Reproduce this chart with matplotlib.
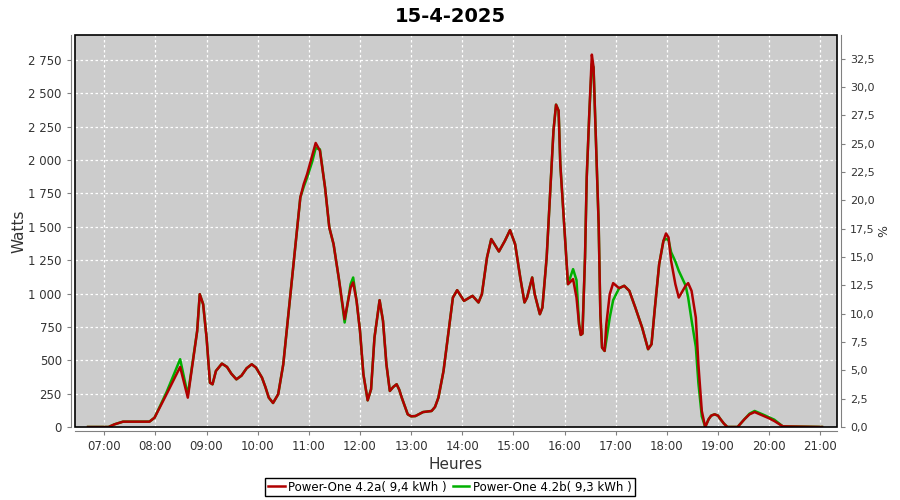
import matplotlib
matplotlib.use('Agg')
import matplotlib.pyplot as plt
import matplotlib.ticker as mticker
from matplotlib.patches import Rectangle
import numpy as np

# readings taken off the chart (time of day, watts)
times_a = ['06:41', '07:05', '07:12', '07:22', '07:53', '07:59', '08:13', '08:29', '08:38', '08:49',
           '08:52', '08:56', '09:00', '09:04', '09:07', '09:11', '09:18', '09:24', '09:29', '09:35',
           '09:41', '09:47', '09:53', '09:58', '10:05', '10:09', '10:13', '10:18', '10:24', '10:30',
           '10:36', '10:42', '10:50', '10:54', '10:58', '11:04', '11:08', '11:13', '11:19', '11:24',
           '11:29', '11:35', '11:42', '11:49', '11:52', '11:56', '12:00', '12:04', '12:09', '12:13',
           '12:17', '12:23', '12:27', '12:31', '12:35', '12:39', '12:43', '12:46', '12:49', '12:56',
           '13:00', '13:05', '13:14', '13:24', '13:28', '13:32', '13:38', '13:44', '13:49', '13:54',
           '14:02', '14:12', '14:19', '14:23', '14:29', '14:34', '14:43', '14:50', '14:56', '15:02',
           '15:08', '15:13', '15:16', '15:22', '15:25', '15:31', '15:34', '15:39', '15:43', '15:47',
           '15:50', '15:53', '15:55', '16:01', '16:04', '16:10', '16:14', '16:17', '16:19', '16:21',
           '16:24', '16:26', '16:29', '16:32', '16:34', '16:37', '16:40', '16:42', '16:44', '16:47',
           '16:49', '16:53', '16:57', '17:04', '17:10', '17:16', '17:23', '17:31', '17:38', '17:42',
           '17:46', '17:51', '17:56', '17:59', '18:02', '18:05', '18:10', '18:14', '18:22', '18:25',
           '18:29', '18:34', '18:37', '18:41', '18:45', '18:49', '18:52', '18:56', '19:00', '19:03',
           '19:07', '19:11', '19:23', '19:31', '19:37', '19:43', '19:54', '20:00', '20:06', '20:16',
           '21:02']

watts_a = [0, 0, 20, 40, 40, 70, 245, 450, 220, 720,
           995, 920, 670, 332, 320, 420, 475, 450, 400, 357,
           385, 440, 470, 445, 370, 300, 220, 180, 245, 470,
           845, 1220, 1720, 1820, 1895, 2033, 2128, 2070, 1795, 1495,
           1370, 1120, 808, 1045, 1083, 945, 720, 395, 200, 283,
           670, 950, 795, 470, 270, 300, 320, 280, 220, 95,
           80, 82, 112, 120, 150, 220, 420, 720, 970, 1025,
           945, 983, 933, 995, 1270, 1408, 1315, 1395, 1475, 1370,
           1120, 933, 970, 1120, 995, 845, 895, 1270, 1745, 2220,
           2415, 2370, 1970, 1370, 1070, 1108, 970, 770, 690, 700,
           1270, 1870, 2345, 2790, 2695, 2095, 1520, 845, 595, 570,
           770, 995, 1078, 1040, 1058, 1020, 895, 745, 583, 620,
           895, 1220, 1395, 1450, 1420, 1245, 1070, 970, 1058, 1078,
           1020, 820, 470, 120, 0, 58, 85, 95, 85, 58,
           25, 0, 0, 58, 95, 112, 82, 65, 45, 5,
           0]

watts_b = [0, 0, 20, 40, 40, 70, 260, 508, 240, 720,
           995, 920, 670, 332, 320, 420, 475, 450, 400, 357,
           385, 440, 470, 445, 370, 300, 220, 180, 245, 470,
           845, 1220, 1720, 1800, 1870, 1990, 2090, 2080, 1795, 1495,
           1370, 1120, 783, 1070, 1120, 945, 720, 395, 200, 283,
           670, 950, 795, 470, 270, 300, 320, 280, 220, 95,
           80, 82, 112, 120, 150, 220, 420, 720, 970, 1025,
           945, 983, 933, 995, 1270, 1408, 1315, 1395, 1475, 1370,
           1120, 933, 970, 1120, 995, 845, 895, 1270, 1745, 2220,
           2415, 2370, 1970, 1370, 1070, 1183, 1100, 770, 690, 700,
           1270, 1870, 2345, 2720, 2695, 2095, 1520, 845, 595, 570,
           650, 820, 950, 1040, 1058, 1020, 895, 745, 583, 620,
           895, 1220, 1395, 1410, 1400, 1310, 1240, 1170, 1060, 970,
           800, 600, 330, 80, 0, 58, 85, 95, 85, 58,
           25, 0, 0, 58, 100, 120, 90, 72, 55, 5,
           0]

label_a = 'Power-One 4.2a( 9,4 kWh )'
label_b = 'Power-One 4.2b( 9,3 kWh )'
hour_ticks = ['07:00', '08:00', '09:00', '10:00', '11:00', '12:00', '13:00', '14:00',
              '15:00', '16:00', '17:00', '18:00', '19:00', '20:00', '21:00']


def to_hours(t):
    h, m = t.split(':')
    return int(h) + int(m) / 60.0


x = np.array([to_hours(t) for t in times_a])

fig = plt.figure(figsize=(9, 5), dpi=100)
ax = fig.add_axes([0.0833, 0.146, 0.8467, 0.784])
ax.set_facecolor('#cccccc')

ax.plot(x, watts_b, color='#00b000', lw=1.8, zorder=2, label=label_b)
ax.plot(x, watts_a, color='#b00000', lw=1.8, zorder=3, label=label_a)

ax.set_xlim(6.427, 21.327)
ax.set_ylim(0, 2937)

ax.set_xticks([to_hours(t) for t in hour_ticks])
ax.set_xticklabels(hour_ticks)
ax.yaxis.set_major_locator(mticker.MultipleLocator(250))
ax.yaxis.set_major_formatter(mticker.FuncFormatter(lambda v, p: '{:,}'.format(int(v)).replace(',', ' ')))

ax.grid(True, color='white', linestyle=(0, (2, 2)), linewidth=0.9)
ax.set_axisbelow(True)

for side in ['top', 'right']:
    ax.spines[side].set_visible(False)
for side in ['left', 'bottom']:
    ax.spines[side].set_position(('outward', 3))
    ax.spines[side].set_color('#808080')
ax.tick_params(colors='#808080', labelcolor='#333333', labelsize=8.5, length=3)

ax.add_patch(Rectangle((0, 0), 1, 1, transform=ax.transAxes, fill=False,
                       ec='black', lw=1.2, zorder=4, clip_on=False))

ax.set_xlabel('Heures', fontsize=11, color='#333333', labelpad=3)
ax.set_ylabel('Watts', fontsize=11, color='#333333', labelpad=1)

ax2 = ax.twinx()
ax2.set_ylim(0, 34.58)
ax2.yaxis.set_major_locator(mticker.MultipleLocator(2.5))
ax2.yaxis.set_major_formatter(mticker.FuncFormatter(lambda v, p: '{:.1f}'.format(v).replace('.', ',')))
for side in ['top', 'left', 'bottom']:
    ax2.spines[side].set_visible(False)
ax2.spines['right'].set_position(('outward', 3))
ax2.spines['right'].set_color('#808080')
ax2.tick_params(colors='#808080', labelcolor='#333333', labelsize=8, length=3)
ax2.set_ylabel('%', fontsize=9, color='#333333', labelpad=2)

fig.suptitle('15-4-2025', fontsize=14, fontweight='bold', y=0.985)

handles, labels = ax.get_legend_handles_labels()
leg = fig.legend(handles[::-1], labels[::-1], loc='lower center', bbox_to_anchor=(0.5, 0.0),
                 ncol=2, fancybox=False, framealpha=1, edgecolor='black', fontsize=8.5,
                 handlelength=1.4, handletextpad=0.3, columnspacing=0.5,
                 borderpad=0.25, borderaxespad=0.3)
leg.get_frame().set_linewidth(1)

fig.savefig('out.png', dpi=100, facecolor='white')
